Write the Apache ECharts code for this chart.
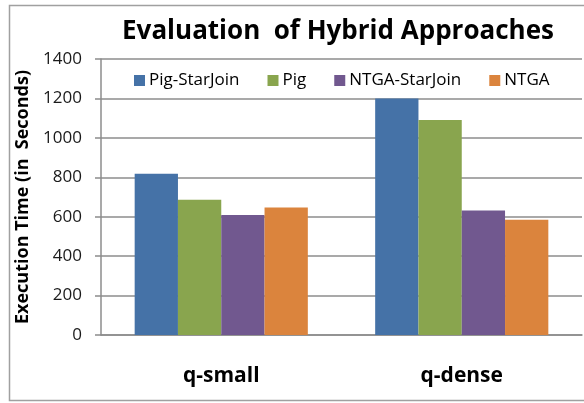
<!DOCTYPE html>
<html>
<head>
<meta charset="utf-8">
<script src="https://cdn.jsdelivr.net/npm/echarts@6/dist/echarts.min.js"></script>
<style>
  html, body { margin: 0; padding: 0; background: #fff; }
  #chart { width: 584px; height: 403px; }
</style>
</head>
<body>
<div id="chart"></div>
<script>
var categories = ['q-small', 'q-dense'];
var pigStarJoin = [818, 1200];
var pig = [686, 1090];
var ntgaStarJoin = [609, 631];
var ntga = [647, 585];
var seriesNames = ['Pig-StarJoin', 'Pig', 'NTGA-StarJoin', 'NTGA'];
var colors = ['#4572A7', '#89A54E', '#71588F', '#DB843D'];

var chart = echarts.init(document.getElementById('chart'));
var font = '"Open Sans", sans-serif';

function bar(name, data, i) {
  return {
    name: name,
    type: 'bar',
    data: data,
    barGap: 0,
    barCategoryGap: '28%',
    itemStyle: { color: colors[i] }
  };
}

var option = {
  animation: false,
  graphic: [{
    type: 'rect',
    shape: { x: 9.5, y: 5.5, width: 600, height: 395 },
    style: { fill: 'none', stroke: '#a0a0a0', lineWidth: 1.5 },
    z: -1
  }],
  title: {
    text: 'Evaluation  of Hybrid Approaches',
    left: 333,
    textAlign: 'center',
    top: 14,
    textStyle: { fontFamily: font, fontWeight: 'bold', fontSize: 26, color: '#000' }
  },
  legend: {
    data: seriesNames,
    left: 129,
    top: 67,
    itemWidth: 11,
    itemHeight: 11,
    itemGap: 28,
    icon: 'rect',
    textStyle: { fontFamily: font, fontSize: 17, color: '#000', padding: [0, 0, 0, -1] }
  },
  grid: { left: 101, right: 2, top: 59, bottom: 68 },
  xAxis: {
    type: 'category',
    data: categories,
    axisLine: { lineStyle: { color: '#8c8c8c', width: 1.5 } },
    axisTick: { length: 7, lineStyle: { color: '#8c8c8c', width: 1.5 } },
    axisLabel: { margin: 31, fontFamily: font, fontWeight: 'bold', fontSize: 21, color: '#000' }
  },
  yAxis: {
    type: 'value',
    min: 0,
    max: 1400,
    interval: 200,
    name: 'Execution Time (in  Seconds)',
    nameLocation: 'middle',
    nameGap: 68,
    nameTextStyle: { fontFamily: font, fontWeight: 'bold', fontSize: 18, color: '#000' },
    axisLine: { show: true, lineStyle: { color: '#8c8c8c', width: 1.5 } },
    axisTick: { show: true, length: 6, lineStyle: { color: '#8c8c8c', width: 1.5 } },
    splitLine: { lineStyle: { color: '#8c8c8c', width: 1.5 } },
    axisLabel: {
      margin: 19,
      fontFamily: font,
      fontSize: 17,
      color: '#1a1a1a',
      formatter: function (v) { return String(v); }
    }
  },
  series: [
    bar(seriesNames[0], pigStarJoin, 0),
    bar(seriesNames[1], pig, 1),
    bar(seriesNames[2], ntgaStarJoin, 2),
    bar(seriesNames[3], ntga, 3)
  ]
};
chart.setOption(option);
</script>
</body>
</html>
